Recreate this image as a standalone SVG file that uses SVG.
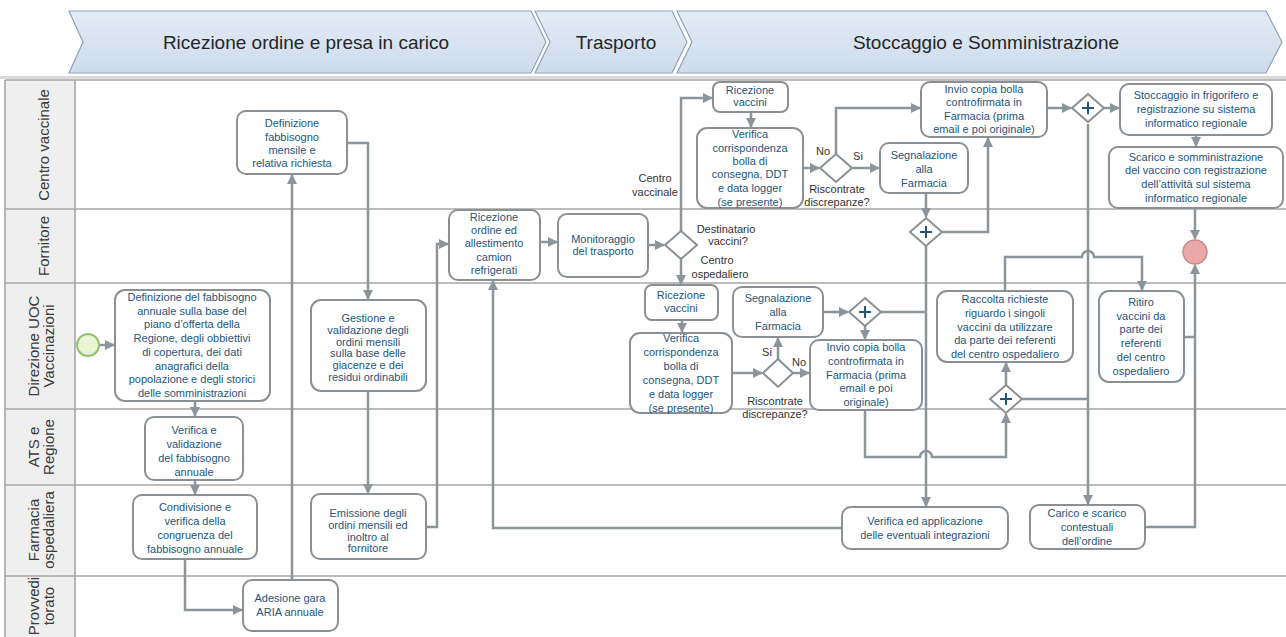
<svg xmlns="http://www.w3.org/2000/svg" width="1286" height="637" viewBox="0 0 1286 637">
  <defs>
    <linearGradient id="phaseFill" x1="0" y1="0" x2="0" y2="1">
      <stop offset="0" stop-color="#e3ecf6"/>
      <stop offset="1" stop-color="#cddbeb"/>
    </linearGradient>
    <marker id="arrow" viewBox="0 0 10 10" refX="9" refY="5" markerWidth="4" markerHeight="4" orient="auto" markerUnits="strokeWidth">
      <path d="M0,0 L10,5 L0,10 z" fill="#8c9599"/>
    </marker>
  </defs>
  <style>
    .phase { fill: url(#phaseFill); stroke: #8ea3ba; stroke-width: 1.2; }
    .phase-text { font-family: "Liberation Sans", Arial, sans-serif; font-size: 19px; fill: #262626; text-anchor: middle; }
    .lane-head { fill: #efefef; }
    .lane-line { stroke: #a6a6a6; stroke-width: 1.6; fill: none; }
    .lane-text { font-family: "Liberation Sans", Arial, sans-serif; font-size: 15px; fill: #3a3a3a; text-anchor: middle; }
    .task { fill: #ffffff; stroke: #8a9094; stroke-width: 2; }
    .task-text { font-family: "Liberation Sans", Arial, sans-serif; font-size: 11px; fill: #25557c; text-anchor: middle; }
    .gw { fill: #ffffff; stroke: #8a9094; stroke-width: 2; }
    .plus { stroke: #25557c; stroke-width: 2; fill: none; }
    .label { font-family: "Liberation Sans", Arial, sans-serif; font-size: 11px; fill: #333333; text-anchor: middle; }
    .flow { fill: none; stroke: #8c9599; stroke-width: 2.5; stroke-linejoin: miter; }
    .flow-a { fill: none; stroke: #8c9599; stroke-width: 2.5; marker-end: url(#arrow); }
  </style>

  <rect width="1286" height="637" fill="#ffffff"/>

  <!-- phase chevrons -->
  <g id="phases">
    <polygon class="phase" points="69,11 531,11 546,42 531,73 69,73 83,42"/>
    <polygon class="phase" points="535,11 672,11 687,42 672,73 535,73 550,42"/>
    <polygon class="phase" points="677,11 1266,11 1282,42 1266,73 677,73 692,42"/>
    <text class="phase-text" x="306" y="49">Ricezione ordine e presa in carico</text>
    <text class="phase-text" x="616" y="49">Trasporto</text>
    <text class="phase-text" x="986" y="49">Stoccaggio e Somministrazione</text>
  </g>

  <!-- swimlanes -->
  <g id="lanes">
    <rect x="0" y="76" width="1286" height="3" fill="#d9d9d9"/>
    <rect class="lane-head" x="5" y="80" width="70" height="557"/>
    <line class="lane-line" x1="5" y1="80" x2="1286" y2="80"/>
    <line class="lane-line" x1="5" y1="209" x2="1286" y2="209"/>
    <line class="lane-line" x1="5" y1="283" x2="1286" y2="283"/>
    <line class="lane-line" x1="5" y1="409" x2="1286" y2="409"/>
    <line class="lane-line" x1="5" y1="485" x2="1286" y2="485"/>
    <line class="lane-line" x1="5" y1="576" x2="1286" y2="576"/>
    <line class="lane-line" x1="5" y1="80" x2="5" y2="637"/>
    <line class="lane-line" x1="75" y1="80" x2="75" y2="637"/>
    <text class="lane-text" transform="translate(49,145) rotate(-90)">Centro vaccinale</text>
    <text class="lane-text" transform="translate(49,246) rotate(-90)">Fornitore</text>
    <text class="lane-text" transform="translate(39,346) rotate(-90)">Direzione UOC</text>
    <text class="lane-text" transform="translate(54,346) rotate(-90)">Vaccinazioni</text>
    <text class="lane-text" transform="translate(39,447) rotate(-90)">ATS e</text>
    <text class="lane-text" transform="translate(54,447) rotate(-90)">Regione</text>
    <text class="lane-text" transform="translate(39,530) rotate(-90)">Farmacia</text>
    <text class="lane-text" transform="translate(54,530) rotate(-90)">ospedaliera</text>
    <text class="lane-text" transform="translate(39,606) rotate(-90)">Provvedi</text>
    <text class="lane-text" transform="translate(54,606) rotate(-90)">torato</text>
  </g>

  <!-- sequence flows -->
  <g id="connectors">
    <path class="flow-a" d="M99,345 H114"/>
    <path class="flow-a" d="M195,401 V416"/>
    <path class="flow-a" d="M195,480 V494"/>
    <path class="flow-a" d="M185,559 V610 H242"/>
    <path class="flow-a" d="M292,580 V175"/>
    <path class="flow-a" d="M347,143 H368 V299"/>
    <path class="flow-a" d="M368,391 V493"/>
    <path class="flow-a" d="M426,527 H437 V244 H448"/>
    <path class="flow-a" d="M540,242 H557"/>
    <path class="flow-a" d="M648,245 H664"/>
    <path class="flow-a" d="M681,231 V98 H712"/>
    <path class="flow-a" d="M681,259 V284"/>
    <path class="flow-a" d="M751,112 V127"/>
    <path class="flow-a" d="M803,168 H819"/>
    <path class="flow-a" d="M836,154 V108 H920"/>
    <path class="flow-a" d="M852,168 H879"/>
    <path class="flow-a" d="M926,193 V217"/>
    <path class="flow-a" d="M942,232 H988 V138"/>
    <path class="flow-a" d="M926,246 V506"/>
    <path class="flow-a" d="M1047,108 H1071"/>
    <path class="flow-a" d="M1104,108 H1119"/>
    <path class="flow-a" d="M1088,124 V504"/>
    <path class="flow-a" d="M1196,135 V146"/>
    <path class="flow-a" d="M1195,208 V239"/>
    <path class="flow-a" d="M1145,527 H1195 V265"/>
    <path class="flow" d="M1184,337 H1195"/>
    <path class="flow-a" d="M1005,291 V257 H1082 A6,6 0 0 1 1094,257 H1142 V290"/>
    <path class="flow-a" d="M682,320 V332"/>
    <path class="flow-a" d="M732,373 H762"/>
    <path class="flow-a" d="M778,359 V338"/>
    <path class="flow-a" d="M793,373 H809"/>
    <path class="flow-a" d="M823,312 H848"/>
    <path class="flow" d="M881,312 H926"/>
    <path class="flow-a" d="M865,326 V339"/>
    <path class="flow-a" d="M865,410 V457 H920 A6,6 0 0 1 932,457 H1006 V414"/>
    <path class="flow-a" d="M1006,385 V363"/>
    <path class="flow" d="M1022,399 H1088"/>
    <path class="flow-a" d="M842,528 H493 V281"/>
  </g>

  <!-- flow labels -->
  <g id="labels">
    <text class="label" x="655" y="182">Centro</text>
    <text class="label" x="655" y="196">vaccinale</text>
    <text class="label" x="726" y="233">Destinatario</text>
    <text class="label" x="728" y="245">vaccini?</text>
    <text class="label" x="717" y="264">Centro</text>
    <text class="label" x="720" y="278">ospedaliero</text>
    <text class="label" x="823" y="155">No</text>
    <text class="label" x="858" y="160">Si</text>
    <text class="label" x="837" y="193">Riscontrate</text>
    <text class="label" x="837" y="206">discrepanze?</text>
    <text class="label" x="767" y="356">Si</text>
    <text class="label" x="799" y="366">No</text>
    <text class="label" x="775" y="405">Riscontrate</text>
    <text class="label" x="775" y="418">discrepanze?</text>
  </g>

  <!-- events -->
  <g id="start">
    <circle cx="88" cy="345" r="11" fill="#eaf5d6" stroke="#92c36a" stroke-width="2"/>
  </g>
  <g id="end">
    <circle cx="1195" cy="252" r="12" fill="#e9a9a9" stroke="#c98a8a" stroke-width="1.5"/>
  </g>

  <!-- tasks -->
  <g id="def-mensile">
    <rect class="task" x="237" y="111" width="110" height="63" rx="9"/>
    <text class="task-text" x="292" y="127">Definizione</text>
    <text class="task-text" x="292" y="141">fabbisogno</text>
    <text class="task-text" x="292" y="154">mensile e</text>
    <text class="task-text" x="292" y="167">relativa richiesta</text>
  </g>
  <g id="def-annuale">
    <rect class="task" x="115" y="290" width="155" height="111" rx="10"/>
    <text class="task-text" x="192" y="301">Definizione del fabbisogno</text>
    <text class="task-text" x="192" y="315">annuale sulla base del</text>
    <text class="task-text" x="192" y="328">piano d’offerta della</text>
    <text class="task-text" x="192" y="342">Regione, degli obbiettivi</text>
    <text class="task-text" x="192" y="356">di copertura, dei dati</text>
    <text class="task-text" x="192" y="370">anagrafici della</text>
    <text class="task-text" x="192" y="383">popolazione e degli storici</text>
    <text class="task-text" x="192" y="397">delle somministrazioni</text>
  </g>
  <g id="verifica-annuale">
    <rect class="task" x="145" y="417" width="98" height="63" rx="9"/>
    <text class="task-text" x="194" y="434">Verifica e</text>
    <text class="task-text" x="194" y="448">validazione</text>
    <text class="task-text" x="194" y="462">del fabbisogno</text>
    <text class="task-text" x="194" y="476">annuale</text>
  </g>
  <g id="condivisione">
    <rect class="task" x="133" y="495" width="124" height="64" rx="9"/>
    <text class="task-text" x="195" y="511">Condivisione e</text>
    <text class="task-text" x="195" y="525">verifica della</text>
    <text class="task-text" x="195" y="539">congruenza del</text>
    <text class="task-text" x="195" y="553">fabbisogno annuale</text>
  </g>
  <g id="adesione">
    <rect class="task" x="243" y="580" width="95" height="51" rx="9"/>
    <text class="task-text" x="290" y="602">Adesione gara</text>
    <text class="task-text" x="290" y="616">ARIA annuale</text>
  </g>
  <g id="gestione">
    <rect class="task" x="311" y="300" width="115" height="91" rx="10"/>
    <text class="task-text" x="368" y="322">Gestione e</text>
    <text class="task-text" x="368" y="334">validazione degli</text>
    <text class="task-text" x="368" y="346">ordini mensili</text>
    <text class="task-text" x="368" y="357">sulla base delle</text>
    <text class="task-text" x="368" y="369">giacenze e dei</text>
    <text class="task-text" x="368" y="381">residui ordinabili</text>
  </g>
  <g id="emissione">
    <rect class="task" x="311" y="494" width="115" height="65" rx="9"/>
    <text class="task-text" x="368" y="517">Emissione degli</text>
    <text class="task-text" x="368" y="529">ordini mensili ed</text>
    <text class="task-text" x="368" y="541">inoltro al</text>
    <text class="task-text" x="368" y="552">fornitore</text>
  </g>
  <g id="ricezione-ordine">
    <rect class="task" x="449" y="210" width="91" height="70" rx="9"/>
    <text class="task-text" x="494" y="221">Ricezione</text>
    <text class="task-text" x="494" y="234">ordine ed</text>
    <text class="task-text" x="494" y="247">allestimento</text>
    <text class="task-text" x="494" y="261">camion</text>
    <text class="task-text" x="494" y="274">refrigerati</text>
  </g>
  <g id="monitoraggio">
    <rect class="task" x="558" y="214" width="90" height="63" rx="9"/>
    <text class="task-text" x="603" y="243">Monitoraggio</text>
    <text class="task-text" x="603" y="255">del trasporto</text>
  </g>
  <g id="gw-destinatario">
    <polygon class="gw" points="681,231 697,245 681,259 665,245"/>
  </g>
  <g id="ricezione-vaccini-cv">
    <rect class="task" x="713" y="82" width="75" height="30" rx="7"/>
    <text class="task-text" x="750" y="94">Ricezione</text>
    <text class="task-text" x="750" y="106">vaccini</text>
  </g>
  <g id="verifica-cv">
    <rect class="task" x="697" y="128" width="106" height="80" rx="10"/>
    <text class="task-text" x="750" y="138">Verifica</text>
    <text class="task-text" x="750" y="152">corrispondenza</text>
    <text class="task-text" x="750" y="165">bolla di</text>
    <text class="task-text" x="750" y="178">consegna, DDT</text>
    <text class="task-text" x="750" y="192">e data logger</text>
    <text class="task-text" x="750" y="206">(se presente)</text>
  </g>
  <g id="gw-discrepanze-cv">
    <polygon class="gw" points="836,154 852,168 836,182 820,168"/>
  </g>
  <g id="segnalazione-cv">
    <rect class="task" x="880" y="143" width="88" height="50" rx="9"/>
    <text class="task-text" x="924" y="159">Segnalazione</text>
    <text class="task-text" x="924" y="173">alla</text>
    <text class="task-text" x="924" y="187">Farmacia</text>
  </g>
  <g id="gw-join-fornitore">
    <polygon class="gw" points="926,218 942,232 926,246 910,232"/>
    <path class="plus" d="M920,232 H932 M926,226 V238"/>
  </g>
  <g id="invio-cv">
    <rect class="task" x="921" y="82" width="126" height="55" rx="9"/>
    <text class="task-text" x="984" y="93">Invio copia bolla</text>
    <text class="task-text" x="984" y="106">controfirmata in</text>
    <text class="task-text" x="984" y="120">Farmacia (prima</text>
    <text class="task-text" x="984" y="133">email e poi originale)</text>
  </g>
  <g id="gw-split-cv">
    <polygon class="gw" points="1088,94 1104,108 1088,122 1072,108"/>
    <path class="plus" d="M1082,108 H1094 M1088,102 V114"/>
  </g>
  <g id="stoccaggio">
    <rect class="task" x="1120" y="84" width="152" height="51" rx="9"/>
    <text class="task-text" x="1196" y="99">Stoccaggio in frigorifero e</text>
    <text class="task-text" x="1196" y="113">registrazione su sistema</text>
    <text class="task-text" x="1196" y="127">informatico regionale</text>
  </g>
  <g id="scarico">
    <rect class="task" x="1109" y="147" width="174" height="61" rx="9"/>
    <text class="task-text" x="1196" y="161">Scarico e somministrazione</text>
    <text class="task-text" x="1196" y="174">del vaccino con registrazione</text>
    <text class="task-text" x="1196" y="188">dell’attività sul sistema</text>
    <text class="task-text" x="1196" y="202">informatico regionale</text>
  </g>
  <g id="ricezione-vaccini-co">
    <rect class="task" x="645" y="285" width="73" height="35" rx="7"/>
    <text class="task-text" x="681" y="299">Ricezione</text>
    <text class="task-text" x="681" y="312">vaccini</text>
  </g>
  <g id="verifica-co">
    <rect class="task" x="630" y="333" width="102" height="80" rx="10"/>
    <text class="task-text" x="681" y="342">Verifica</text>
    <text class="task-text" x="681" y="356">corrispondenza</text>
    <text class="task-text" x="681" y="370">bolla di</text>
    <text class="task-text" x="681" y="384">consegna, DDT</text>
    <text class="task-text" x="681" y="398">e data logger</text>
    <text class="task-text" x="681" y="412">(se presente)</text>
  </g>
  <g id="gw-discrepanze-co">
    <polygon class="gw" points="778,359 793,373 778,387 763,373"/>
  </g>
  <g id="segnalazione-co">
    <rect class="task" x="733" y="287" width="90" height="50" rx="9"/>
    <text class="task-text" x="778" y="302">Segnalazione</text>
    <text class="task-text" x="778" y="316">alla</text>
    <text class="task-text" x="778" y="330">Farmacia</text>
  </g>
  <g id="gw-join-co">
    <polygon class="gw" points="865,298 881,312 865,326 849,312"/>
    <path class="plus" d="M859,312 H871 M865,306 V318"/>
  </g>
  <g id="invio-co">
    <rect class="task" x="810" y="340" width="112" height="70" rx="9"/>
    <text class="task-text" x="866" y="351">Invio copia bolla</text>
    <text class="task-text" x="866" y="365">controfirmata in</text>
    <text class="task-text" x="866" y="379">Farmacia (prima</text>
    <text class="task-text" x="866" y="392">email e poi</text>
    <text class="task-text" x="866" y="406">originale)</text>
  </g>
  <g id="raccolta">
    <rect class="task" x="937" y="291" width="136" height="71" rx="10"/>
    <text class="task-text" x="1005" y="303">Raccolta richieste</text>
    <text class="task-text" x="1005" y="317">riguardo i singoli</text>
    <text class="task-text" x="1005" y="331">vaccini da utilizzare</text>
    <text class="task-text" x="1005" y="344">da parte dei referenti</text>
    <text class="task-text" x="1005" y="358">del centro ospedaliero</text>
  </g>
  <g id="gw-join-raccolta">
    <polygon class="gw" points="1006,385 1022,399 1006,413 990,399"/>
    <path class="plus" d="M1000,399 H1012 M1006,393 V405"/>
  </g>
  <g id="ritiro">
    <rect class="task" x="1099" y="291" width="85" height="91" rx="10"/>
    <text class="task-text" x="1141" y="306">Ritiro</text>
    <text class="task-text" x="1141" y="320">vaccini da</text>
    <text class="task-text" x="1141" y="333">parte dei</text>
    <text class="task-text" x="1141" y="347">referenti</text>
    <text class="task-text" x="1141" y="361">del centro</text>
    <text class="task-text" x="1141" y="375">ospedaliero</text>
  </g>
  <g id="verifica-applicazione">
    <rect class="task" x="842" y="507" width="166" height="42" rx="9"/>
    <text class="task-text" x="925" y="525">Verifica ed applicazione</text>
    <text class="task-text" x="925" y="539">delle eventuali integrazioni</text>
  </g>
  <g id="carico">
    <rect class="task" x="1030" y="505" width="115" height="44" rx="9"/>
    <text class="task-text" x="1087" y="517">Carico e scarico</text>
    <text class="task-text" x="1087" y="531">contestuali</text>
    <text class="task-text" x="1087" y="545">dell’ordine</text>
  </g>
</svg>
